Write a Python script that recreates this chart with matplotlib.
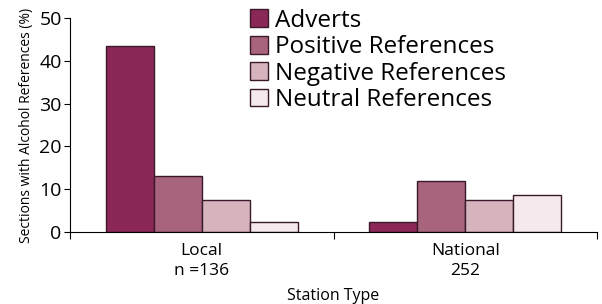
import matplotlib.pyplot as plt
import numpy as np

plt.rcParams['font.family'] = ['Open Sans', 'DejaVu Sans']

# 数据
stations = ["Local\nn =136", "National\n252"]
series = ["Adverts", "Positive References", "Negative References", "Neutral References"]
adverts = [43.5, 2.3]
positive = [13.1, 11.9]
negative = [7.5, 7.5]
neutral = [2.3, 8.6]

colors = ['#8C2858', '#A8637D', '#D5B4BD', '#F4E9EC']

fig = plt.figure(figsize=(6.02, 3.04), dpi=100)
ax = fig.add_axes([0.1163, 0.2368, 0.8754, 0.704])

x = np.arange(len(stations))
w = 0.1825
for i, (vals, name) in enumerate(zip([adverts, positive, negative, neutral], series)):
    ax.bar(x + (i - 1.5) * w, vals, width=w, color=colors[i], edgecolor='#3A1A2A',
           linewidth=1.0, label=name)

ax.set_xlim(-0.5, 1.5)
ax.set_ylim(0, 50)
ax.set_yticks(np.arange(0, 51, 10))
ax.tick_params(axis='y', labelsize=14, length=4, direction='out', pad=2)

# 类别边界刻度
ax.set_xticks([-0.5, 0.5, 1.5])
ax.set_xticklabels([])
ax.set_xticks(x, minor=True)
ax.set_xticklabels(stations, minor=True, fontsize=12.5, linespacing=1.3)
ax.tick_params(axis='x', which='minor', length=0, pad=8)
ax.tick_params(axis='x', which='major', length=5)

ax.spines['top'].set_visible(False)
ax.spines['right'].set_visible(False)

ax.set_xlabel("Station Type", fontsize=11.5, labelpad=7)
ax.set_ylabel("Sections with Alcohol References (%)", fontsize=10, labelpad=4)

ax.legend(loc='upper left', bbox_to_anchor=(0.318, 1.1), frameon=False, fontsize=17.5,
          handlelength=0.75, handleheight=0.75, handletextpad=0.3, labelspacing=0.1,
          borderpad=0)

plt.savefig("out.png", dpi=100)
